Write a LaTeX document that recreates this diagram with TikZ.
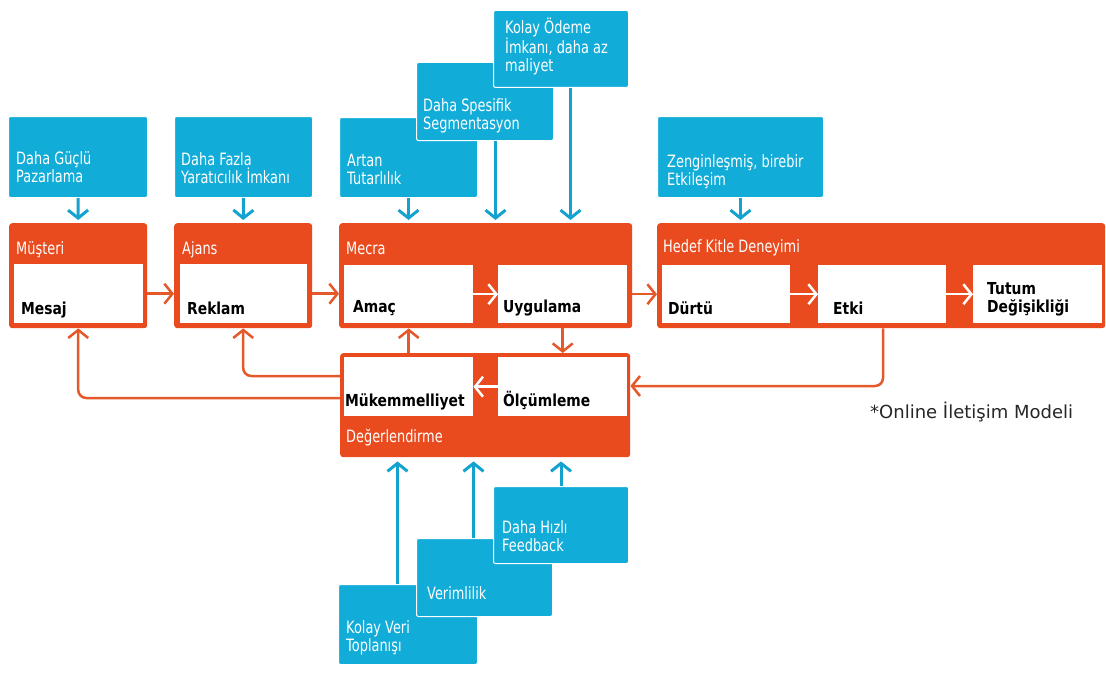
\documentclass[tikz,border=0pt]{standalone}
\usepackage{fontspec}
\setmainfont{DejaVu Sans}
\newfontfamily\incefont[FakeStretch=0.76]{DejaVu Sans}
\newfontfamily\kalinfont[FakeStretch=0.84]{DejaVu Sans}
\usetikzlibrary{arrows.meta,positioning,calc}
\definecolor{turuncu}{RGB}{233,75,30}
\definecolor{turuncuok}{RGB}{228,88,42}
\definecolor{mavi}{RGB}{18,172,216}
\definecolor{maviok}{RGB}{20,162,206}

\begin{document}
\begin{tikzpicture}[x=1pt, y=-1pt, >={Straight Barb[length=8pt,width=20pt]},
  kutu/.style={fill=mavi, draw=white, line width=1pt, rounded corners=2pt, anchor=north west, inner sep=0pt},
  blok/.style={fill=turuncu, rounded corners=3pt, anchor=north west, inner sep=0pt},
  ic/.style={fill=white, anchor=north west, inner sep=0pt},
  yazi/.style={text=white, font=\incefont\fontsize{17}{18}\selectfont, align=left, anchor=south west, inner sep=0pt, text depth=0pt},
  etiket/.style={font=\kalinfont\bfseries\fontsize{16.5}{18}\selectfont, align=left, anchor=south west, inner sep=0pt, text depth=0pt},
  mok/.style={->, draw=maviok, line width=3pt},
  tok/.style={->, draw=turuncuok, line width=2.5pt},
  bok/.style={->, draw=white, line width=2.5pt}]
  \useasboundingbox (0,0) rectangle (1106,677);

  % ust mavi kutular
  \node[kutu, minimum width=139pt, minimum height=81pt] (pazar) at (8,116) {};
  \node[yazi] (pazart) at (16,183) {Daha Güçlü\\Pazarlama};
  \node[kutu, minimum width=138pt, minimum height=81pt] (yarat) at (174,116) {};
  \node[yazi] (yaratt) at (181,184) {Daha Fazla\\Yaratıcılık İmkanı};
  \node[kutu, minimum width=138pt, minimum height=80pt] (tutar) at (339,117) {};
  \node[yazi] (tutart) at (347,185) {Artan\\Tutarlılık};
  \node[kutu, minimum width=137pt, minimum height=78pt] (spesifik) at (416,62) {};
  \node[yazi] (spesifikt) at (423,130) {Daha Spesifik\\Segmentasyon};
  \node[kutu, minimum width=135pt, minimum height=77pt] (odeme) at (493,10) {};
  \node[yazi] (odemet) at (505,72) {Kolay Ödeme\\İmkanı, daha az\\maliyet};
  \node[kutu, minimum width=166pt, minimum height=81pt] (zengin) at (657,116) {};
  \node[yazi] (zengint) at (667,186) {Zenginleşmiş, birebir\\Etkileşim};

  % turuncu bloklar
  \node[blok, minimum width=138pt, minimum height=105pt] (musteri) at (9,223) {};
  \node[blok, minimum width=138pt, minimum height=105pt] (ajans) at (174,223) {};
  \node[blok, minimum width=293pt, minimum height=105pt] (mecra) at (339,223) {};
  \node[blok, minimum width=448pt, minimum height=105pt] (hedef) at (657,223) {};
  \node[blok, minimum width=290pt, minimum height=104pt] (deger) at (340,353) {};
  \node[yazi] (musterit) at (16,255) {Müşteri};
  \node[yazi] (ajanst) at (182,255) {Ajans};
  \node[yazi] (mecrat) at (346,255) {Mecra};
  \node[yazi] (hedeft) at (663,253) {Hedef Kitle Deneyimi};
  \node[yazi] (degert) at (346,443) {Değerlendirme};

  % ic kutular
  \node[ic, minimum width=129pt, minimum height=59pt] (mesaj) at (14,264) {};
  \node[ic, minimum width=127pt, minimum height=59pt] (reklam) at (180,264) {};
  \node[ic, minimum width=129pt, minimum height=58pt] (amac) at (344,265) {};
  \node[ic, minimum width=129pt, minimum height=58pt] (uygulama) at (498,265) {};
  \node[ic, minimum width=128pt, minimum height=58pt] (durtu) at (662,265) {};
  \node[ic, minimum width=128pt, minimum height=58pt] (etki) at (818,265) {};
  \node[ic, minimum width=129pt, minimum height=58pt] (tutum) at (973,265) {};
  \node[ic, minimum width=129pt, minimum height=59pt] (mukem) at (344,357) {};
  \node[ic, minimum width=129pt, minimum height=59pt] (olcum) at (498,357) {};
  \node[etiket] (mesajt) at (21,315) {Mesaj};
  \node[etiket] (reklamt) at (187,315) {Reklam};
  \node[etiket] (amact) at (353,313) {Amaç};
  \node[etiket] (uygulamat) at (503,313) {Uygulama};
  \node[etiket] (durtut) at (668,315) {Dürtü};
  \node[etiket] (etkit) at (833,315) {Etki};
  \node[etiket] (tutumt) at (987,313) {Tutum\\Değişikliği};
  \node[etiket] (mukemt) at (345,407) {Mükemmelliyet};
  \node[etiket] (olcumt) at (503,407) {Ölçümleme};

  % alt mavi kutular
  \node[kutu, minimum width=139pt, minimum height=80pt] (veri) at (338,584) {};
  \node[yazi] (verit) at (346,652) {Kolay Veri\\Toplanışı};
  \node[kutu, minimum width=136pt, minimum height=78pt] (verim) at (416,538) {};
  \node[yazi] (verimt) at (427,600) {Verimlilik};
  \node[kutu, minimum width=135pt, minimum height=77pt] (hizli) at (493,486) {};
  \node[yazi] (hizlit) at (502,552) {Daha Hızlı\\Feedback};

  \node[font=\fontsize{18}{20}\selectfont, text=black!85, anchor=base west, inner sep=0pt] (model) at (870,418) {*Online İletişim Modeli};

  % mavi oklar
  \coordinate (s4) at ($(spesifik.south)+(10.5,0)$);
  \coordinate (s5) at ($(odeme.south)+(9.5,0)$);
  \coordinate (a1) at ($(veri.north)+(-10.5,0)$);
  \coordinate (a2) at ($(verim.north)+(-11,0)$);
  \draw[mok, shorten >=3pt] (pazar.south) -- (musteri.north);
  \draw[mok, shorten >=3pt] (yarat.south) -- (ajans.north);
  \draw[mok, shorten >=3pt] (tutar.south) -- (tutar.south |- mecra.north);
  \draw[mok, shorten >=3pt] (s4) -- (s4 |- mecra.north);
  \draw[mok, shorten >=3pt] (s5) -- (s5 |- mecra.north);
  \draw[mok, shorten >=3pt] (zengin.south) -- (zengin.south |- hedef.north);
  \draw[mok, shorten >=4pt] (a1) -- (a1 |- deger.south);
  \draw[mok, shorten >=4pt] (a2) -- (a2 |- deger.south);
  \draw[mok, shorten >=4pt] (hizli.north) -- (hizli.north |- deger.south);

  % turuncu oklar
  \draw[tok] (musteri.east |- mesaj) -- (ajans.west |- mesaj);
  \draw[tok] (ajans.east |- reklam) -- (mecra.west |- reklam);
  \draw[tok] (mecra.east |- uygulama) -- (hedef.west |- uygulama);
  \draw[tok] (amac.south |- deger.north) -- (amac.south |- mecra.south);
  \draw[tok] (uygulama.south |- mecra.south) -- (uygulama.south |- deger.north);
  \draw[tok, rounded corners=8pt] ($(deger.north west)+(0,23)$) -| (ajans.south);
  \draw[tok, rounded corners=8pt] ($(deger.north west)+(0,45)$) -| (musteri.south);
  \draw[tok, rounded corners=8pt] ($(hedef.south west)+(226,0)$) |- ($(deger.north east)+(0,33)$);

  % beyaz oklar
  \draw[bok] (amac.east) -- (uygulama.west);
  \draw[bok] (durtu.east) -- (etki.west);
  \draw[bok] (etki.east) -- (tutum.west);
  \draw[bok] (olcum.west) -- (mukem.east);
\end{tikzpicture}
\end{document}
